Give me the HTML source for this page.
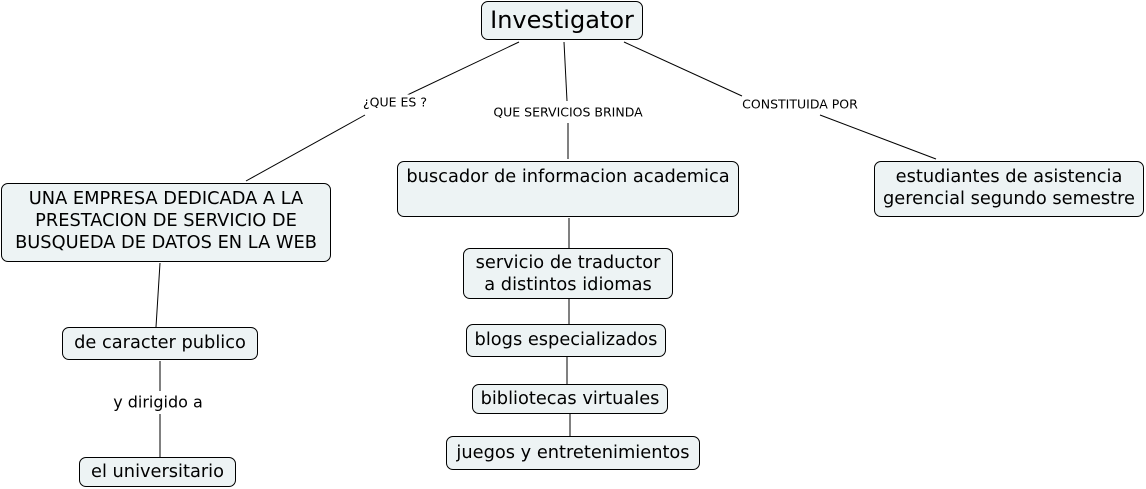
<!DOCTYPE html>
<html><head><meta charset="utf-8"><style>
body{margin:0;width:1146px;height:489px;background:#fff;position:relative;overflow:hidden;font-family:"DejaVu Sans","Liberation Sans",sans-serif;color:#000}
.b{position:absolute;box-sizing:border-box;border:1px solid #000;border-radius:7px;background:#edf3f4;font-size:17.8px;line-height:22px;text-align:center;white-space:nowrap}
.l{position:absolute;font-size:12.5px;background:#fff;white-space:nowrap;transform:translate(-50%,-50%)}
svg{position:absolute;left:0;top:0}
</style></head><body>
<svg width="1146" height="489"><g stroke="#000" stroke-width="1">
<line x1="519" y1="42" x2="382" y2="107"/><line x1="365" y1="115" x2="246" y2="181"/>
<line x1="564" y1="42" x2="567" y2="101"/><line x1="568" y1="123" x2="568" y2="159"/>
<line x1="624" y1="42" x2="742" y2="96"/><line x1="820" y1="115" x2="936" y2="159"/>
<line x1="569" y1="218" x2="569" y2="248"/><line x1="569" y1="299" x2="569" y2="324"/>
<line x1="567" y1="357" x2="567" y2="384"/><line x1="570" y1="414" x2="570" y2="436"/>
<line x1="160" y1="263" x2="156" y2="327"/><line x1="160" y1="361" x2="160" y2="391"/>
<line x1="160" y1="414" x2="160" y2="457"/></g></svg>
<div class="b" style="left:481px;top:1px;width:162px;height:39px;font-size:24px;line-height:36px">Investigator</div>
<div class="l" style="left:395px;top:102px">¿QUE ES ?</div>
<div class="l" style="left:568px;top:112px">QUE SERVICIOS BRINDA</div>
<div class="l" style="left:800px;top:104px">CONSTITUIDA POR</div>
<div class="b" style="left:1px;top:183px;width:330px;height:79px;padding-top:4px">UNA EMPRESA DEDICADA A LA<br>PRESTACION DE SERVICIO DE<br>BUSQUEDA DE DATOS EN LA WEB</div>
<div class="b" style="left:397px;top:161px;width:342px;height:56px;padding-top:4px">buscador de informacion academica</div>
<div class="b" style="left:874px;top:161px;width:270px;height:56px;padding-top:4px">estudiantes de asistencia<br>gerencial segundo semestre</div>
<div class="b" style="left:463px;top:248px;width:210px;height:51px;padding-top:3px">servicio de traductor <br>a distintos idiomas</div>
<div class="b" style="left:466px;top:324px;width:200px;height:33px;padding-top:4px">blogs especializados</div>
<div class="b" style="left:472px;top:384px;width:196px;height:30px;padding-top:3px">bibliotecas virtuales</div>
<div class="b" style="left:446px;top:436px;width:254px;height:34px;padding-top:5px">juegos y entretenimientos</div>
<div class="b" style="left:62px;top:327px;width:196px;height:33px;padding-top:4px">de caracter publico </div>
<div class="l" style="left:158px;top:402px;font-size:16px">y dirigido a</div>
<div class="b" style="left:79px;top:457px;width:157px;height:30px;padding-top:3px"> el universitario</div>
</body></html>
